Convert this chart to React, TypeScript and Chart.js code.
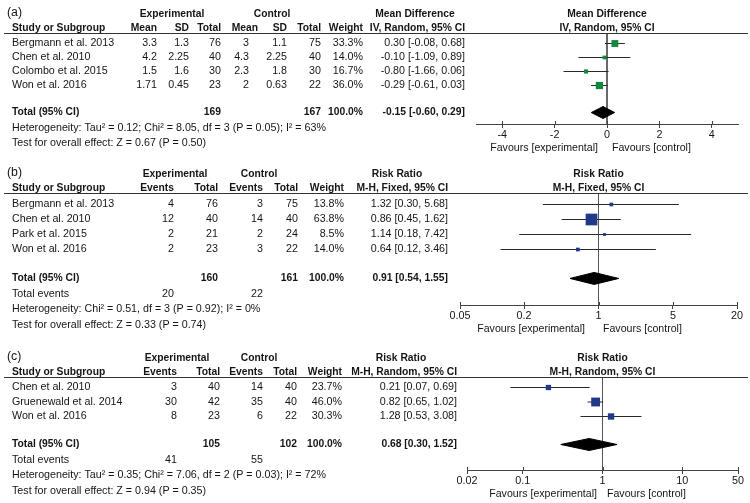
import React, { useEffect, useRef } from 'react';
import { Chart, registerables } from 'chart.js';
Chart.register(...registerables);

const FONT = '"Liberation Sans", Arial, Helvetica, sans-serif';
const TXT = '#151515';

// ---------- Panel (a): Mean Difference, IV, Random ----------
const studiesA = ['Bergmann et al. 2013', 'Chen et al. 2010', 'Colombo et al. 2015', 'Won et al. 2016'];
const expMeanA = [3.3, 4.2, 1.5, 1.71];
const expSdA = [1.3, 2.25, 1.6, 0.45];
const expTotalA = [76, 40, 30, 23];
const ctlMeanA = [3, 4.3, 2.3, 2];
const ctlSdA = [1.1, 2.25, 1.8, 0.63];
const ctlTotalA = [75, 40, 30, 22];
const weightA = [33.3, 14.0, 16.7, 36.0];
const estA = [0.30, -0.10, -0.80, -0.29];
const loA = [-0.08, -1.09, -1.66, -0.61];
const hiA = [0.68, 0.89, 0.06, 0.03];
const pooledA = [-0.15, -0.60, 0.29];
const totalsA = [169, 167];
const ticksA = [-4, -2, 0, 2, 4];
const statsA = [
  'Heterogeneity: Tau\u00B2 = 0.12; Chi\u00B2 = 8.05, df = 3 (P = 0.05); I\u00B2 = 63%',
  'Test for overall effect: Z = 0.67 (P = 0.50)',
];

// ---------- Panel (b): Risk Ratio, M-H, Fixed ----------
const studiesB = ['Bergmann et al. 2013', 'Chen et al. 2010', 'Park et al. 2015', 'Won et al. 2016'];
const expEventsB = [4, 12, 2, 2];
const expTotalB = [76, 40, 21, 23];
const ctlEventsB = [3, 14, 2, 3];
const ctlTotalB = [75, 40, 24, 22];
const weightB = [13.8, 63.8, 8.5, 14.0];
const estB = [1.32, 0.86, 1.14, 0.64];
const loB = [0.30, 0.45, 0.18, 0.12];
const hiB = [5.68, 1.62, 7.42, 3.46];
const pooledB = [0.91, 0.54, 1.55];
const totalsB = [160, 161];
const eventsB = [20, 22];
const ticksB = [0.05, 0.2, 1, 5, 20];
const statsB = [
  'Heterogeneity: Chi\u00B2 = 0.51, df = 3 (P = 0.92); I\u00B2 = 0%',
  'Test for overall effect: Z = 0.33 (P = 0.74)',
];

// ---------- Panel (c): Risk Ratio, M-H, Random ----------
const studiesC = ['Chen et al. 2010', 'Gruenewald et al. 2014', 'Won et al. 2016'];
const expEventsC = [3, 30, 8];
const expTotalC = [40, 42, 23];
const ctlEventsC = [14, 35, 6];
const ctlTotalC = [40, 40, 22];
const weightC = [23.7, 46.0, 30.3];
const estC = [0.21, 0.82, 1.28];
const loC = [0.07, 0.65, 0.53];
const hiC = [0.69, 1.02, 3.08];
const pooledC = [0.68, 0.30, 1.52];
const totalsC = [105, 102];
const eventsC = [41, 55];
const ticksC = [0.02, 0.1, 1, 10, 50];
const statsC = [
  'Heterogeneity: Tau\u00B2 = 0.35; Chi\u00B2 = 7.06, df = 2 (P = 0.03); I\u00B2 = 72%',
  'Test for overall effect: Z = 0.94 (P = 0.35)',
];

const f2 = (v: number) => v.toFixed(2);
const ci = (e: number, l: number, h: number) => `${f2(e)} [${f2(l)}, ${f2(h)}]`;
const pct = (v: number) => v.toFixed(1) + '%';

interface PanelCfg {
  tag: string;
  top: number; height: number;
  hl: number; axisY: number; row0: number; step: number;
  left: number; right: number;
  scaleType: 'linear' | 'logarithmic';
  min: number; max: number; ticks: number[]; nullVal: number;
  color: string;
  groups: [string, number][];
  heads: string[];
  headX: number[];
  colX: number[];
  rows: string[][];
  totalRow: string[];
  eventsRow: string[] | null;
  stats: string[];
  est: number[]; lo: number[]; hi: number[]; w: number[];
  pooled: number[];
  plotHead: [string, string];
  favL: number; favR: number;
}

const panels: PanelCfg[] = [
  {
    tag: '(a)', top: 0, height: 160, hl: 33, axisY: 124, row0: 43.5, step: 14,
    left: 476, right: 738, scaleType: 'linear', min: -5, max: 5, ticks: ticksA, nullVal: 0,
    color: '#12873d',
    groups: [['Experimental', 172], ['Control', 272], ['Mean Difference', 415]],
    heads: ['Study or Subgroup', 'Mean', 'SD', 'Total', 'Mean', 'SD', 'Total', 'Weight', 'IV, Random, 95% CI'],
    headX: [157, 189, 221, 258, 287, 321, 363, 465],
    colX: [157, 189, 221, 249, 287, 321, 363, 465],
    rows: studiesA.map((s, i) => [s, String(expMeanA[i]), String(expSdA[i]), String(expTotalA[i]),
      String(ctlMeanA[i]), String(ctlSdA[i]), String(ctlTotalA[i]), pct(weightA[i]), ci(estA[i], loA[i], hiA[i])]),
    totalRow: ['Total (95% CI)', '', '', String(totalsA[0]), '', '', String(totalsA[1]), '100.0%', ci(pooledA[0], pooledA[1], pooledA[2])],
    eventsRow: null,
    stats: statsA,
    est: estA, lo: loA, hi: hiA, w: weightA, pooled: pooledA,
    plotHead: ['Mean Difference', 'IV, Random, 95% CI'],
    favL: 598, favR: 612,
  },
  {
    tag: '(b)', top: 160, height: 180, hl: 193, axisY: 305, row0: 204.5, step: 15,
    left: 460, right: 737, scaleType: 'logarithmic', min: 0.05, max: 20, ticks: ticksB, nullVal: 1,
    color: '#22398a',
    groups: [['Experimental', 175], ['Control', 259], ['Risk Ratio', 397]],
    heads: ['Study or Subgroup', 'Events', 'Total', 'Events', 'Total', 'Weight', 'M-H, Fixed, 95% CI'],
    headX: [174, 218, 263, 298, 344, 448],
    colX: [174, 218, 263, 298, 344, 448],
    rows: studiesB.map((s, i) => [s, String(expEventsB[i]), String(expTotalB[i]), String(ctlEventsB[i]),
      String(ctlTotalB[i]), pct(weightB[i]), ci(estB[i], loB[i], hiB[i])]),
    totalRow: ['Total (95% CI)', '', String(totalsB[0]), '', String(totalsB[1]), '100.0%', ci(pooledB[0], pooledB[1], pooledB[2])],
    eventsRow: ['Total events', String(eventsB[0]), '', String(eventsB[1]), '', '', ''],
    stats: statsB,
    est: estB, lo: loB, hi: hiB, w: weightB, pooled: pooledB,
    plotHead: ['Risk Ratio', 'M-H, Fixed, 95% CI'],
    favL: 585, favR: 603,
  },
  {
    tag: '(c)', top: 340, height: 163, hl: 377, axisY: 470, row0: 387.5, step: 14.5,
    left: 467, right: 738, scaleType: 'logarithmic', min: 0.02, max: 50, ticks: ticksC, nullVal: 1,
    color: '#22398a',
    groups: [['Experimental', 177], ['Control', 259], ['Risk Ratio', 401]],
    heads: ['Study or Subgroup', 'Events', 'Total', 'Events', 'Total', 'Weight', 'M-H, Random, 95% CI'],
    headX: [177, 220, 263, 297, 342, 457],
    colX: [177, 220, 263, 297, 342, 457],
    rows: studiesC.map((s, i) => [s, String(expEventsC[i]), String(expTotalC[i]), String(ctlEventsC[i]),
      String(ctlTotalC[i]), pct(weightC[i]), ci(estC[i], loC[i], hiC[i])]),
    totalRow: ['Total (95% CI)', '', String(totalsC[0]), '', String(totalsC[1]), '100.0%', ci(pooledC[0], pooledC[1], pooledC[2])],
    eventsRow: ['Total events', String(eventsC[0]), '', String(eventsC[1]), '', '', ''],
    stats: statsC,
    est: estC, lo: loC, hi: hiC, w: weightC, pooled: pooledC,
    plotHead: ['Risk Ratio', 'M-H, Random, 95% CI'],
    favL: 597, favR: 607,
  },
];

const AXH = 28;
const GAP = 1.93;
const NORMAL_SIZE = 10.7;
const BOLD_SIZE = 10.3;

function txt(ctx: CanvasRenderingContext2D, s: string, x: number, y: number, align: CanvasTextAlign, bold = false, size?: number) {
  const sz = size ?? (bold ? BOLD_SIZE : NORMAL_SIZE);
  ctx.font = `${bold ? 'bold ' : ''}${sz}px ${FONT}`;
  ctx.textAlign = align;
  ctx.textBaseline = 'middle';
  ctx.fillStyle = TXT;
  ctx.fillText(s, x, y);
}

function buildConfig(p: PanelCfg): any {
  const n = p.est.length;
  const yMin = 1 - (p.row0 - p.hl) / p.step;
  const yMax = 1 + (p.axisY - p.row0) / p.step;
  const totalY = n + GAP;
  const dh = 6 / p.step;
  const T = p.top;

  const datasets: any[] = [];
  datasets.push({
    data: [{ x: p.nullVal, y: yMin }, { x: p.nullVal, y: yMax }],
    showLine: true, borderColor: '#555', borderWidth: 1, pointRadius: 0, order: 5,
  });
  p.est.forEach((_, i) => {
    datasets.push({
      data: [{ x: p.lo[i], y: i + 1 }, { x: p.hi[i], y: i + 1 }],
      showLine: true, borderColor: '#2a2a2a', borderWidth: 1, pointRadius: 0, order: 4,
    });
  });
  datasets.push({
    data: p.est.map((e, i) => ({ x: e, y: i + 1 })),
    showLine: false, pointStyle: 'rect',
    pointRadius: p.w.map((v) => (1.5 + 0.16 * v) * Math.SQRT1_2),
    backgroundColor: p.color, pointBackgroundColor: p.color, pointBorderWidth: 0, borderWidth: 0, order: 2,
  });
  const [pe, pl, ph] = p.pooled;
  datasets.push({
    data: [{ x: pl, y: totalY }, { x: pe, y: totalY - dh }, { x: ph, y: totalY }, { x: pe, y: totalY + dh }, { x: pl, y: totalY }],
    showLine: true, fill: 'shape', backgroundColor: '#000', borderColor: '#000', borderWidth: 1, pointRadius: 0, order: 1,
  });

  const tablePlugin = {
    id: 'table_' + p.tag,
    afterDraw(chart: any) {
      const { ctx, chartArea } = chart;
      const x = chart.scales.x;
      const y = chart.scales.y;
      ctx.save();
      // panel tag
      txt(ctx, p.tag, 7, p.hl - 20 - T, 'left', false, 12.3);
      // group headers
      p.groups.forEach(([s, cx]) => txt(ctx, s, cx, p.hl - 19 - T, 'center', true));
      const pc = (chartArea.left + chartArea.right) / 2;
      txt(ctx, p.plotHead[0], pc, p.hl - 19 - T, 'center', true);
      txt(ctx, p.plotHead[1], pc, p.hl - 5 - T, 'center', true);
      // column headers
      p.heads.forEach((s, i) => txt(ctx, s, i === 0 ? 12 : p.headX[i - 1], p.hl - 5 - T, i === 0 ? 'left' : 'right', true));
      // header rule
      ctx.strokeStyle = '#333';
      ctx.lineWidth = 1;
      ctx.beginPath();
      const hy = Math.round(chartArea.top) + 0.5;
      ctx.moveTo(4, hy);
      ctx.lineTo(748, hy);
      ctx.stroke();
      // study rows
      p.rows.forEach((cells, r) => {
        const yy = y.getPixelForValue(r + 1);
        cells.forEach((s, i) => { if (s) txt(ctx, s, i === 0 ? 12 : p.colX[i - 1], yy, i === 0 ? 'left' : 'right'); });
      });
      const ty = y.getPixelForValue(totalY);
      p.totalRow.forEach((s, i) => { if (s) txt(ctx, s, i === 0 ? 12 : p.colX[i - 1], ty, i === 0 ? 'left' : 'right', true); });
      let k = 1;
      if (p.eventsRow) {
        p.eventsRow.forEach((s, i) => { if (s) txt(ctx, s, i === 0 ? 12 : p.colX[i - 1], ty + 15.5 * k, i === 0 ? 'left' : 'right'); });
        k++;
      }
      p.stats.forEach((s) => { txt(ctx, s, 12, ty + 15.5 * k, 'left'); k++; });
      // tick marks above the axis line
      ctx.strokeStyle = '#444';
      ctx.beginPath();
      x.ticks.forEach((t: any) => {
        const px = Math.round(x.getPixelForValue(t.value)) + 0.5;
        ctx.moveTo(px, chartArea.bottom - 3);
        ctx.lineTo(px, chartArea.bottom);
      });
      ctx.stroke();
      // favours labels
      const fy = chartArea.bottom + 24;
      txt(ctx, 'Favours [experimental]', p.favL, fy, 'right', false, 10.6);
      txt(ctx, 'Favours [control]', p.favR, fy, 'left', false, 10.6);
      ctx.restore();
    },
  };

  return {
    type: 'scatter',
    data: { datasets },
    options: {
      responsive: false,
      animation: false,
      events: [],
      devicePixelRatio: 1,
      layout: {
        autoPadding: false,
        padding: { left: p.left, right: 750 - p.right, top: p.hl - p.top, bottom: p.top + p.height - p.axisY - AXH },
      },
      plugins: { legend: { display: false }, tooltip: { enabled: false }, title: { display: false } },
      scales: {
        x: {
          type: p.scaleType, min: p.min, max: p.max, position: 'bottom',
          afterBuildTicks: (s: any) => { s.ticks = p.ticks.map((v) => ({ value: v })); },
          afterFit: (s: any) => { s.height = AXH; },
          border: { display: true, color: '#444', width: 1 },
          grid: { display: true, drawOnChartArea: false, drawTicks: true, tickLength: 4, color: '#444' },
          ticks: {
            font: { family: FONT, size: 10.8 }, color: TXT, padding: 1, maxRotation: 0, autoSkip: false,
            callback: (v: any) => String(v),
          },
        },
        y: { type: 'linear', display: false, reverse: true, min: yMin, max: yMax },
      },
    },
    plugins: [tablePlugin],
  };
}

function PanelChart({ p }: { p: PanelCfg }) {
  const ref = useRef<HTMLCanvasElement>(null);
  useEffect(() => {
    const chart = new Chart(ref.current as HTMLCanvasElement, buildConfig(p));
    return () => chart.destroy();
  }, [p]);
  return (
    <canvas
      ref={ref}
      width={750}
      height={p.height}
      style={{ position: 'absolute', left: 0, top: p.top, width: 750, height: p.height, display: 'block' }}
    />
  );
}

export default function App() {
  return (
    <div style={{ position: 'absolute', left: 0, top: 0, width: 750, height: 503, background: '#fff', overflow: 'hidden' }}>
      {panels.map((p) => (
        <PanelChart key={p.tag} p={p} />
      ))}
    </div>
  );
}
